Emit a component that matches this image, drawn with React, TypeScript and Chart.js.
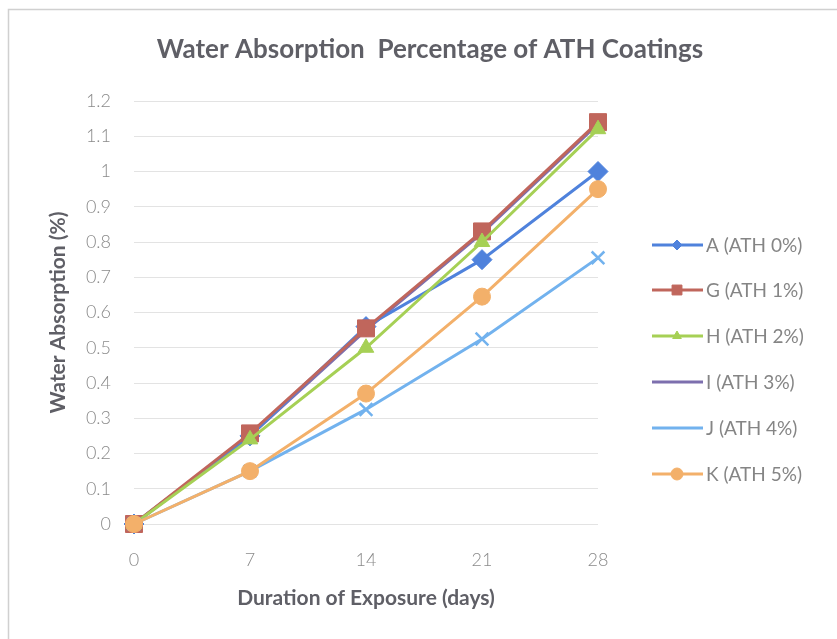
import React, { useEffect, useRef } from "react";
import { Chart, registerables } from "chart.js";
import { drawPoint } from "chart.js/helpers";

Chart.register(...registerables);

const days = ["0", "7", "14", "21", "28"];
const seriesA = [0, 0.25, 0.56, 0.75, 1.0];
const seriesG = [0, 0.257, 0.555, 0.83, 1.14];
const seriesH = [0, 0.24, 0.5, 0.8, 1.12];
const seriesI = [0, 0.25, 0.55, 0.825, 1.135];
const seriesJ = [0, 0.15, 0.325, 0.525, 0.755];
const seriesK = [0, 0.15, 0.37, 0.645, 0.95];
const seriesNames = ["A (ATH 0%)", "G (ATH 1%)", "H (ATH 2%)", "I (ATH 3%)", "J (ATH 4%)", "K (ATH 5%)"];
const titleText = "Water Absorption  Percentage of ATH Coatings";
const yTitle = "Water Absorption (%)";
const xTitle = "Duration of Exposure (days)";

const FONT = "Lato, 'Open Sans', sans-serif";

const overlay = {
  id: "overlay",
  afterDraw(chart: any) {
    const ctx = chart.ctx;
    const ca = chart.chartArea;
    ctx.save();
    // frame
    ctx.strokeStyle = "#d0d0d0";
    ctx.lineWidth = 1.5;
    ctx.beginPath();
    ctx.moveTo(8.5, 640);
    ctx.lineTo(8.5, 9.5);
    ctx.lineTo(840, 9.5);
    ctx.stroke();
    // title
    ctx.fillStyle = "#5f5f66";
    ctx.font = `bold 26px ${FONT}`;
    ctx.textAlign = "center";
    ctx.textBaseline = "middle";
    ctx.fillText(titleText, 430, 50);
    // x title
    ctx.font = `bold 21px ${FONT}`;
    ctx.fillText(xTitle, (ca.left + ca.right) / 2, 598);
    // y title
    ctx.save();
    ctx.translate(58, (ca.top + ca.bottom) / 2);
    ctx.rotate(-Math.PI / 2);
    ctx.fillText(yTitle, 0, 0);
    ctx.restore();
    // legend
    const ys = [245, 290, 336, 382, 428, 474];
    const sizes = [5, 7, 5, 0, 0, 6];
    ctx.font = `19px ${FONT}`;
    ctx.textAlign = "left";
    chart.data.datasets.forEach((ds: any, i: number) => {
      const y = ys[i];
      ctx.strokeStyle = ds.borderColor;
      ctx.lineWidth = 3;
      ctx.beginPath();
      ctx.moveTo(652, y);
      ctx.lineTo(703, y);
      ctx.stroke();
      if (sizes[i] > 0) {
        ctx.fillStyle = ds.pointBackgroundColor;
        ctx.strokeStyle = ds.pointBorderColor;
        ctx.lineWidth = 1;
        drawPoint(ctx, { pointStyle: ds.pointStyle, radius: sizes[i], borderWidth: 1, rotation: 0 } as any, 677, y);
      }
      ctx.fillStyle = "#858585";
      ctx.fillText(ds.label, 706, y + 1);
    });
    ctx.restore();
  },
};

export default function App() {
  const ref = useRef<HTMLCanvasElement>(null);
  useEffect(() => {
    document.body.style.margin = "0";
    const mk = (label: string, data: number[], color: string, style: any, radius: number, order: number) => ({
      label,
      data,
      borderColor: color,
      backgroundColor: color,
      pointBackgroundColor: color,
      pointBorderColor: color,
      pointStyle: style,
      pointRadius: radius,
      pointBorderWidth: style === "crossRot" ? 2.5 : 1,
      borderWidth: 3,
      tension: 0,
      clip: false,
      order,
    });
    const chart = new Chart(ref.current!, {
      type: "line",
      data: {
        labels: days,
        datasets: [
          mk(seriesNames[0], seriesA, "#4f82dc", "rectRot", 10, 4),
          mk(seriesNames[1], seriesG, "#c0665c", "rect", 12, 3),
          mk(seriesNames[2], seriesH, "#a6d055", "triangle", 9, 2),
          mk(seriesNames[3], seriesI, "#7d6fae", false, 0, 5),
          mk(seriesNames[4], seriesJ, "#72b2ee", "crossRot", 9, 1),
          mk(seriesNames[5], seriesK, "#f3b06a", "circle", 8.5, 0),
        ],
      },
      options: {
        animation: false,
        responsive: false,
        layout: { padding: { left: 30, top: 101, right: 239, bottom: 0 } },
        plugins: { legend: { display: false }, title: { display: false }, tooltip: { enabled: false } },
        scales: {
          x: {
            offset: false,
            grid: { display: false },
            border: { display: false },
            ticks: { color: "#8a8a8a", font: { family: FONT, size: 18, weight: 300 }, padding: 17 },
            afterFit: (s: any) => { s.height = 115; },
          },
          y: {
            min: 0,
            max: 1.2,
            grid: { color: "#e3e3e3", lineWidth: 1, drawTicks: false },
            border: { display: false },
            ticks: {
              stepSize: 0.1,
              color: "#8a8a8a",
              font: { family: FONT, size: 18, weight: 300 },
              padding: 23,
              callback: (v: any) => String(Number(Number(v).toFixed(1))),
            },
            afterFit: (s: any) => { s.width = 104; },
          },
        },
      },
      plugins: [overlay],
    });
    return () => chart.destroy();
  }, []);
  return <canvas ref={ref} width={837} height={639} style={{ display: "block" }} />;
}
